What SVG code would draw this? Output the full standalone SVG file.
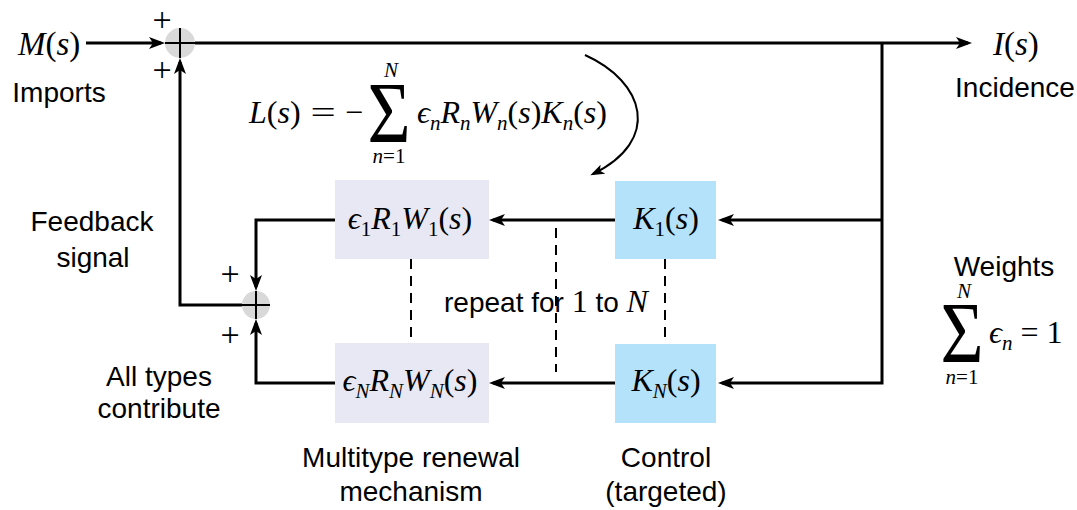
<svg xmlns="http://www.w3.org/2000/svg" width="1077" height="510" viewBox="0 0 1077 510">
<style>
.lbl{font-family:"Liberation Sans",Arial,sans-serif;font-size:28px;fill:#000;text-anchor:middle}
.m{font-family:"Liberation Serif","DejaVu Serif",serif;font-size:32px;fill:#000}
.i{font-style:italic}
.sub{font-size:21px}
.sm{font-size:21px}
.ln{fill:none;stroke:#000;stroke-width:3}
.arc{fill:none;stroke:#000;stroke-width:2}
.dash{fill:none;stroke:#000;stroke-width:2;stroke-dasharray:10 7}
.sum{fill:#d9d9d9}
.cross{stroke:#000;stroke-width:2}
.boxR{fill:#e8e8f4}
.boxK{fill:#b5e2fb}
.plus{font-family:"Liberation Serif",serif;font-size:34px;fill:#000;text-anchor:middle}
</style>
<defs>
<marker id="ah" markerUnits="userSpaceOnUse" markerWidth="16" markerHeight="12" refX="12" refY="6" orient="auto"><path d="M0,0 L16,6 L0,12 L4,6 z" fill="#000"/></marker>
<marker id="ahs" markerUnits="userSpaceOnUse" markerWidth="14" markerHeight="10" refX="11" refY="5" orient="auto"><path d="M0,0 L14,5 L0,10 L3.5,5 z" fill="#000"/></marker>
</defs>

<g id="connectors">
<line class="ln" x1="86" y1="43" x2="161" y2="43" marker-end="url(#ah)"/>
<path class="ln" d="M242,305 H180 V62" marker-end="url(#ah)"/>
<line class="ln" x1="195" y1="43" x2="968" y2="43" marker-end="url(#ah)"/>
<path class="ln" d="M882,43 V383 H722" marker-end="url(#ah)"/>
<line class="ln" x1="882" y1="220" x2="722" y2="220" marker-end="url(#ah)"/>
<line class="ln" x1="615" y1="220" x2="493" y2="220" marker-end="url(#ah)"/>
<line class="ln" x1="615" y1="383" x2="493" y2="383" marker-end="url(#ah)"/>
<path class="ln" d="M335,220 H256 V287" marker-end="url(#ah)"/>
<path class="ln" d="M335,383 H256 V323" marker-end="url(#ah)"/>
<line class="dash" x1="411" y1="259" x2="411" y2="343"/>
<line class="dash" x1="665" y1="259" x2="665" y2="344"/>
<line class="dash" x1="556" y1="228" x2="556" y2="372"/>
<path class="arc" d="M585,55 C645,82 662,140 593,174" marker-end="url(#ahs)"/>
</g>

<g id="sum-top">
<circle class="sum" cx="180" cy="43" r="15"/>
<line class="cross" x1="165" y1="43" x2="195" y2="43"/>
<line class="cross" x1="180" y1="28" x2="180" y2="58"/>
<text class="plus" x="162" y="31">+</text>
<text class="plus" x="162" y="81">+</text>
</g>

<g id="sum-bottom">
<circle class="sum" cx="256" cy="305" r="14"/>
<line class="cross" x1="242" y1="305" x2="270" y2="305"/>
<line class="cross" x1="256" y1="291" x2="256" y2="319"/>
<text class="plus" x="230" y="285">+</text>
<text class="plus" x="230" y="346">+</text>
</g>

<g id="input">
<text class="m" x="18" y="55" style="font-size:33px"><tspan class="i">M</tspan>(<tspan class="i">s</tspan>)</text>
<text class="lbl" x="59" y="102">Imports</text>
</g>

<g id="output">
<text class="m" x="993" y="55" style="font-size:33px"><tspan class="i">I</tspan>(<tspan class="i">s</tspan>)</text>
<text class="lbl" x="1015" y="97">Incidence</text>
</g>

<g id="formula">
<text class="m" x="249" y="123"><tspan class="i">L</tspan>(<tspan class="i">s</tspan>)</text>
<text class="m" transform="translate(323,123) scale(1.4,1)" text-anchor="middle">=</text>
<text class="m" x="354" y="123" text-anchor="middle">−</text>
<text class="m" transform="translate(389,142) scale(1,1.16)" style="font-size:74px" text-anchor="middle">Σ</text>
<text class="m i sm" x="391" y="77" text-anchor="middle">N</text>
<text class="m sm" x="389" y="163" text-anchor="middle"><tspan class="i">n</tspan>=1</text>
<text class="m" x="417" y="123"><tspan class="i">ϵ</tspan><tspan class="i sub" dy="7">n</tspan><tspan class="i" dy="-7">R</tspan><tspan class="i sub" dy="7">n</tspan><tspan class="i" dy="-7">W</tspan><tspan class="i sub" dy="7">n</tspan><tspan dy="-7">(</tspan><tspan class="i">s</tspan>)<tspan class="i">K</tspan><tspan class="i sub" dy="7">n</tspan><tspan dy="-7">(</tspan><tspan class="i">s</tspan>)</text>
</g>

<g id="renewal-1">
<rect class="boxR" x="335" y="180" width="154" height="79"/>
<text class="m" x="410" y="229" text-anchor="middle"><tspan class="i">ϵ</tspan><tspan class="sub" dy="7">1</tspan><tspan class="i" dy="-7">R</tspan><tspan class="sub" dy="7">1</tspan><tspan class="i" dy="-7">W</tspan><tspan class="sub" dy="7">1</tspan><tspan dy="-7">(</tspan><tspan class="i">s</tspan>)</text>
</g>

<g id="renewal-N">
<rect class="boxR" x="335" y="343" width="154" height="80"/>
<text class="m" x="410" y="391" text-anchor="middle"><tspan class="i">ϵ</tspan><tspan class="i sub" dy="7">N</tspan><tspan class="i" dy="-7">R</tspan><tspan class="i sub" dy="7">N</tspan><tspan class="i" dy="-7">W</tspan><tspan class="i sub" dy="7">N</tspan><tspan dy="-7">(</tspan><tspan class="i">s</tspan>)</text>
</g>

<g id="control-1">
<rect class="boxK" x="615" y="181" width="101" height="78"/>
<text class="m" x="666" y="229" text-anchor="middle"><tspan class="i">K</tspan><tspan class="sub" dy="7">1</tspan><tspan dy="-7">(</tspan><tspan class="i">s</tspan>)</text>
</g>

<g id="control-N">
<rect class="boxK" x="615" y="344" width="101" height="79"/>
<text class="m" x="666" y="391" text-anchor="middle"><tspan class="i">K</tspan><tspan class="i sub" dy="7">N</tspan><tspan dy="-7">(</tspan><tspan class="i">s</tspan>)</text>
</g>

<g id="labels">
<text class="lbl" x="92" y="231">Feedback</text>
<text class="lbl" x="93" y="267">signal</text>
<text class="lbl" x="159" y="386">All types</text>
<text class="lbl" x="159" y="418">contribute</text>
<text class="lbl" x="546" y="312">repeat for <tspan class="m">1</tspan> to <tspan class="m i">N</tspan></text>
<text class="lbl" x="411" y="467">Multitype renewal</text>
<text class="lbl" x="411" y="501">mechanism</text>
<text class="lbl" x="666" y="467">Control</text>
<text class="lbl" x="666" y="501">(targeted)</text>
</g>

<g id="weights">
<text class="lbl" x="1004" y="276">Weights</text>
<text class="m" transform="translate(962,362) scale(1,1.16)" style="font-size:74px" text-anchor="middle">Σ</text>
<text class="m i sm" x="964" y="298" text-anchor="middle">N</text>
<text class="m sm" x="962" y="384" text-anchor="middle"><tspan class="i">n</tspan>=1</text>
<text class="m" x="989" y="343"><tspan class="i">ϵ</tspan><tspan class="i sub" dy="7">n</tspan><tspan dy="-7"> = 1</tspan></text>
</g>
</svg>
